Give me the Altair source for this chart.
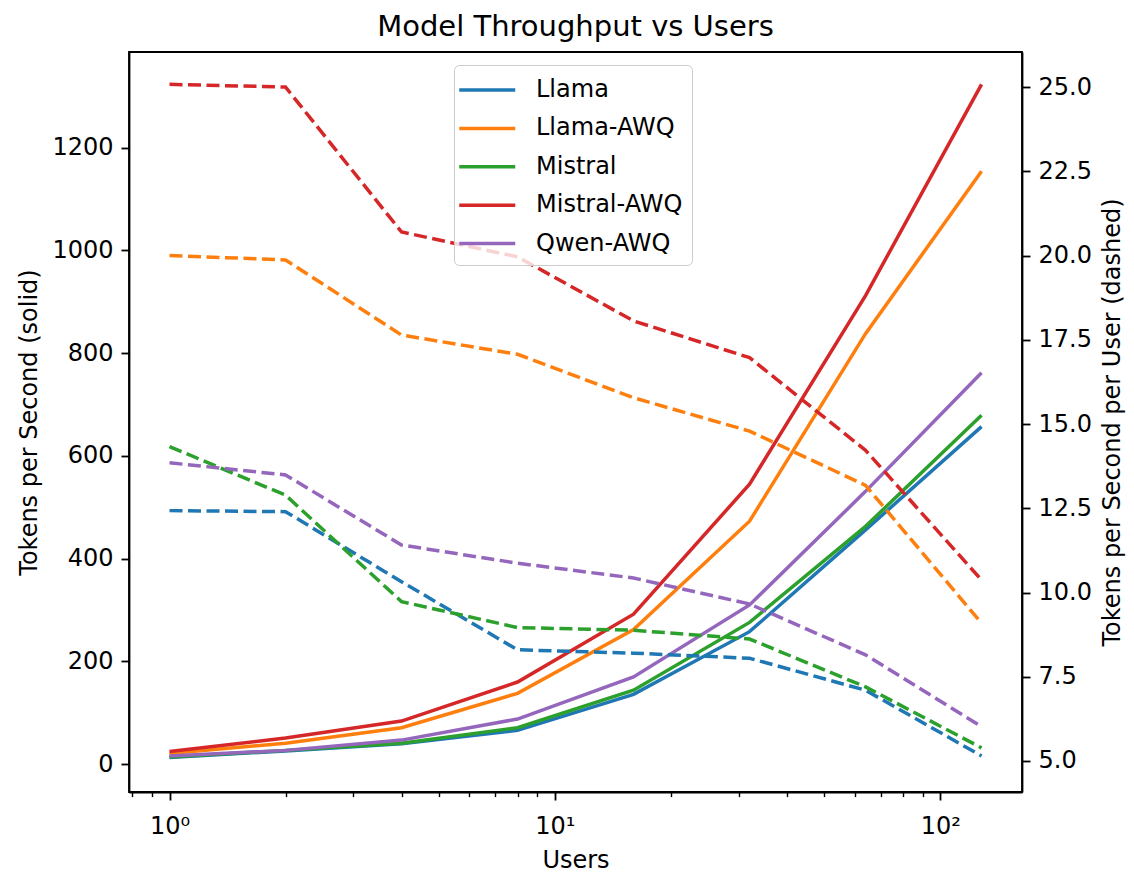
import altair as alt
import pandas as pd

# ---- data ----
users = [1, 2, 4, 8, 16, 32, 64, 128]
models = ["Llama", "Llama-AWQ", "Mistral", "Mistral-AWQ", "Qwen-AWQ"]
colors = ["#1f77b4", "#ff7f0e", "#2ca02c", "#d62728", "#9467bd"]

# Tokens per second (solid lines, left axis)
tps_llama = [13, 26, 40, 66, 136, 258, 456, 657]
tps_llama_awq = [21, 41, 71, 138, 262, 473, 838, 1154]
tps_mistral = [14, 27, 41, 71, 144, 276, 463, 679]
tps_mistral_awq = [25, 51, 84, 160, 292, 545, 912, 1323]
tps_qwen_awq = [16, 27, 47, 88, 170, 310, 531, 762]

# Tokens per second per user (dashed lines, right axis)
tpu_llama = [12.43, 12.40, 10.32, 8.30, 8.20, 8.05, 7.10, 5.15]
tpu_llama_awq = [20.0, 19.87, 17.64, 17.07, 15.78, 14.79, 13.18, 9.09]
tpu_mistral = [14.33, 12.89, 9.73, 8.96, 8.88, 8.62, 7.20, 5.39]
tpu_mistral_awq = [25.08, 25.0, 20.7, 19.96, 18.06, 16.97, 14.22, 10.37]
tpu_qwen_awq = [13.85, 13.49, 11.41, 10.87, 10.43, 9.66, 8.15, 6.02]

x_ticks = [0.8, 0.9, 1, 2, 3, 4, 5, 6, 7, 8, 9, 10, 20, 30, 40, 50, 60, 70, 80, 90, 100]
left_ticks = [0, 200, 400, 600, 800, 1000, 1200]
right_ticks = [5.0, 7.5, 10.0, 12.5, 15.0, 17.5, 20.0, 22.5, 25.0]

tps_all = [tps_llama, tps_llama_awq, tps_mistral, tps_mistral_awq, tps_qwen_awq]
tpu_all = [tpu_llama, tpu_llama_awq, tpu_mistral, tpu_mistral_awq, tpu_qwen_awq]

rows = []
for m, tps, tpu in zip(models, tps_all, tpu_all):
    for u, a, b in zip(users, tps, tpu):
        rows.append({"Users": u, "Model": m, "TPS": a, "TPU": b})
df = pd.DataFrame(rows)

FONT = "DejaVu Sans"
FS = 24
MAJOR = "datum.value == 1 || datum.value == 10 || datum.value == 100"

x_enc = alt.X(
    "Users:Q",
    scale=alt.Scale(type="log", domain=[0.785, 163], nice=False, zero=False),
    axis=alt.Axis(
        values=x_ticks,
        labelExpr="datum.value == 1 ? '10⁰' : datum.value == 10 ? '10¹' : datum.value == 100 ? '10²' : ''",
        tickSize={"condition": {"test": MAJOR, "value": 8}, "value": 4.6},
        tickWidth={"condition": {"test": MAJOR, "value": 1.8}, "value": 1.4},
        labelOverlap=False,
        labelFlush=False,
        labelPadding=14,
        title="Users",
        titlePadding=10,
        grid=False,
    ),
)

color_enc = alt.Color(
    "Model:N",
    scale=alt.Scale(domain=models, range=colors),
    legend=alt.Legend(
        orient="none",
        legendX=325,
        legendY=13,
        title=None,
        symbolType="M-1.41,0H2.59",
        symbolSize=784,
        symbolStrokeWidth=3.5,
        symbolDash=[1, 0],
        labelFontSize=FS,
        labelFont=FONT,
        labelColor="black",
        labelOffset=41,
        rowPadding=10.4,
        padding=9,
        fillColor="rgba(255,255,255,0.8)",
        strokeColor="#cccccc",
        cornerRadius=5,
    ),
)

solid = alt.Chart(df).mark_line(strokeWidth=3.5, clip=True).encode(
    x=x_enc,
    y=alt.Y(
        "TPS:Q",
        scale=alt.Scale(domain=[-54, 1386], nice=False, zero=False),
        axis=alt.Axis(
            values=left_ticks,
            format="d",
            orient="left",
            title="Tokens per Second (solid)",
            tickSize=8,
            tickWidth=1.8,
            labelPadding=8,
            titlePadding=10,
            grid=False,
        ),
    ),
    color=color_enc,
    detail="Model:N",
)

dashed = alt.Chart(df).mark_line(strokeWidth=3.5, strokeDash=[13, 5.5], clip=True).encode(
    x=x_enc,
    y=alt.Y(
        "TPU:Q",
        scale=alt.Scale(domain=[4.08, 26.04], nice=False, zero=False),
        axis=alt.Axis(
            values=right_ticks,
            format=".1f",
            orient="right",
            title="Tokens per Second per User (dashed)",
            titleAngle=270,
            titleBaseline="top",
            tickSize=8,
            tickWidth=1.8,
            labelPadding=8,
            titlePadding=9,
            grid=False,
        ),
    ),
    color=alt.Color("Model:N", scale=alt.Scale(domain=models, range=colors), legend=None),
    detail="Model:N",
)

chart = (
    alt.layer(solid, dashed)
    .resolve_scale(y="independent")
    .properties(
        width=893,
        height=740,
        padding={"left": 121, "top": 44, "right": 104, "bottom": 80},
        autosize=alt.AutoSizeParams(type="none"),
        title=alt.TitleParams(
            "Model Throughput vs Users",
            fontSize=29,
            fontWeight="normal",
            font=FONT,
            color="black",
            anchor="middle",
            baseline="alphabetic",
            offset=16,
            dy=29,
            frame="group",
        ),
    )
    .configure(font=FONT)
    .configure_view(stroke="black", strokeWidth=1.8)
    .configure_axis(
        labelFont=FONT,
        titleFont=FONT,
        labelFontSize=FS,
        titleFontSize=FS,
        titleFontWeight="normal",
        labelColor="black",
        titleColor="black",
        tickColor="black",
        domainColor="black",
        domainWidth=1.8,
    )
)

chart.save("out.html", embed_options={"renderer": "svg", "actions": False})
